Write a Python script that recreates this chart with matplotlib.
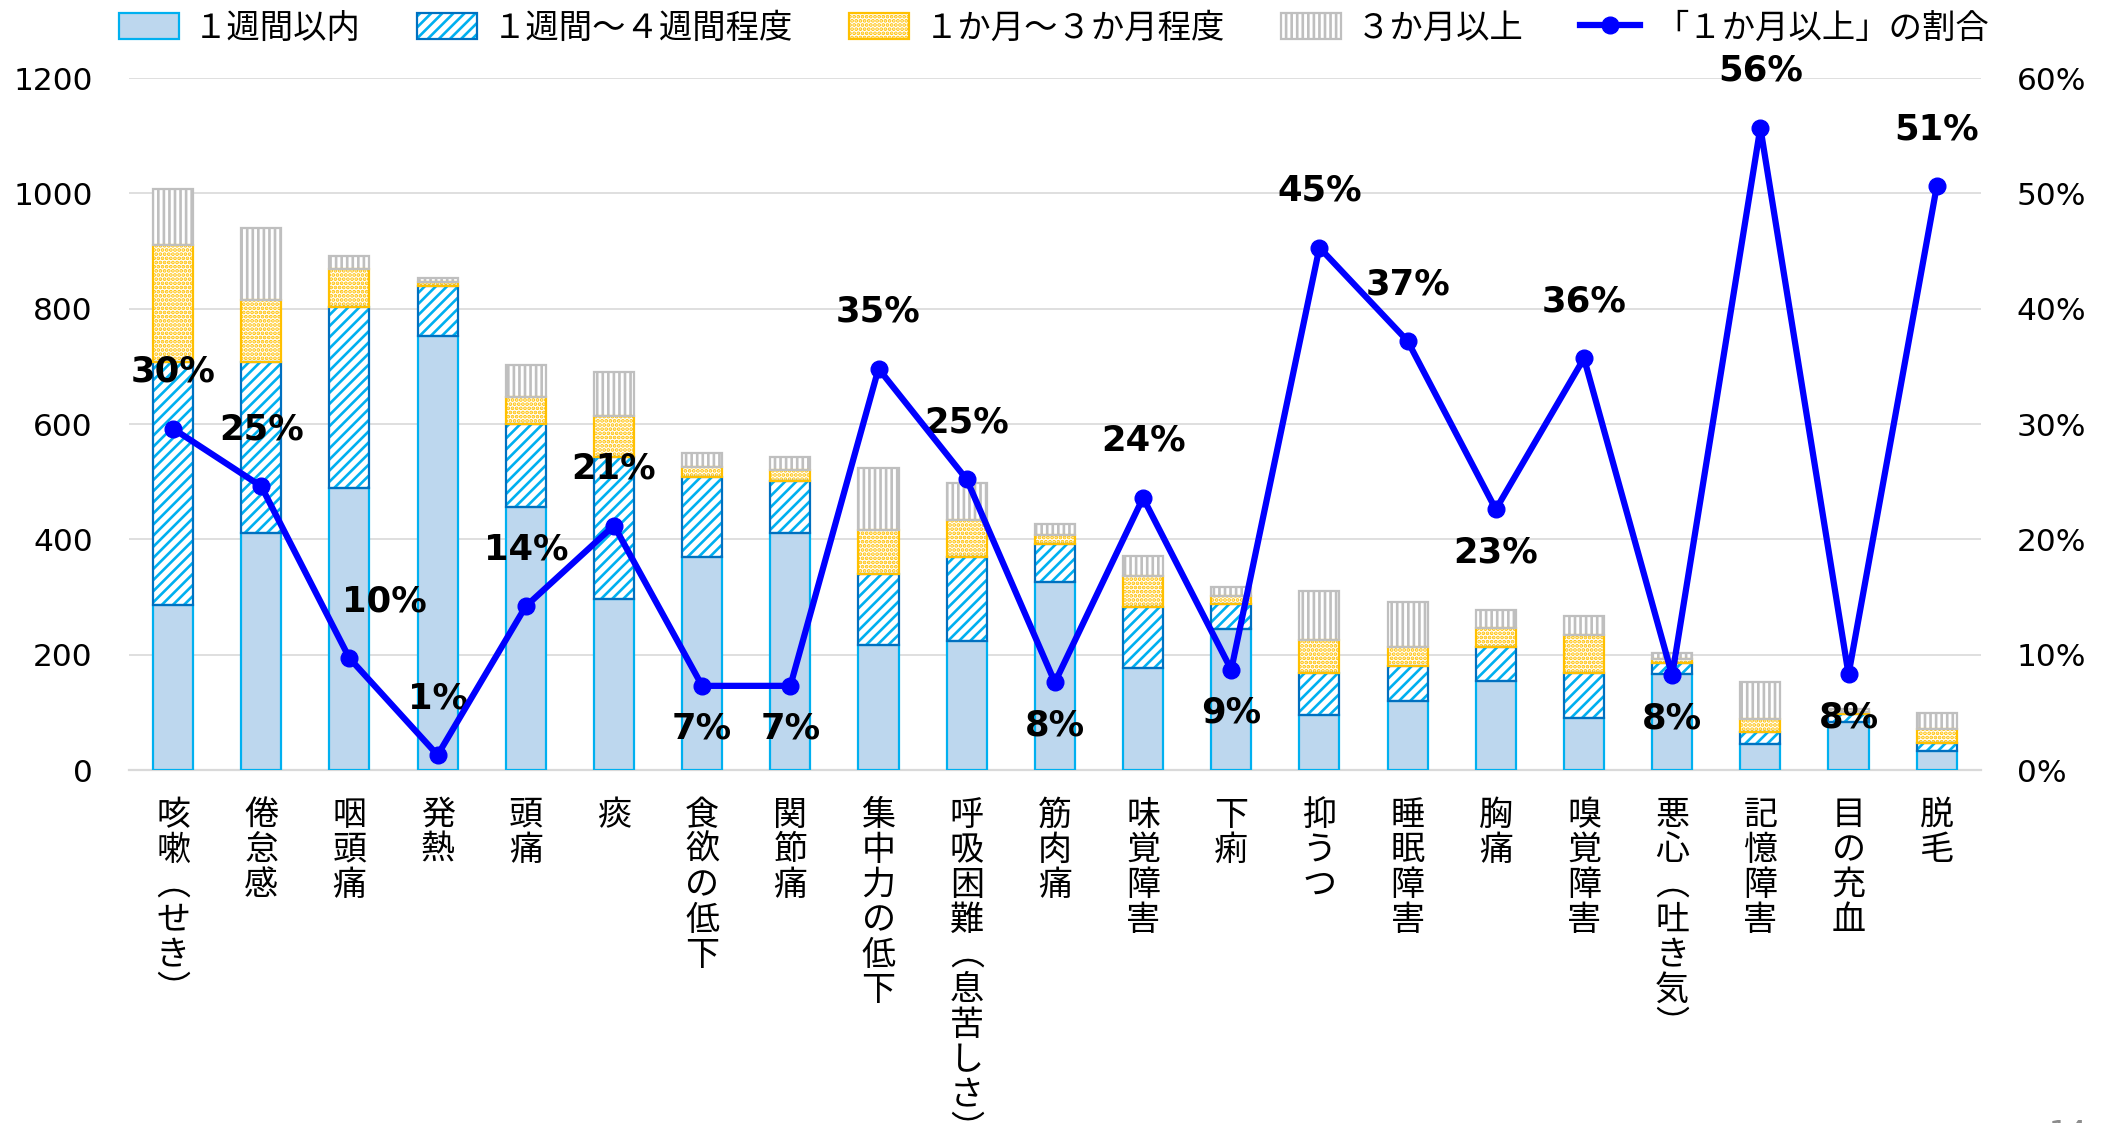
import matplotlib
matplotlib.use("Agg")
import matplotlib.pyplot as plt
import numpy as np

plt.rcParams['font.family'] = ['Noto Sans CJK JP', 'DejaVu Sans']
plt.rcParams['hatch.linewidth'] = 1.9

# symptom names (horizontal form; converted to vertical below)
symptoms = ['咳嗽（せき）', '倦怠感', '咽頭痛', '発熱', '頭痛', '痰', '食欲の低下', '関節痛',
            '集中力の低下', '呼吸困難（息苦しさ）', '筋肉痛', '味覚障害', '下痢', '抑うつ',
            '睡眠障害', '胸痛', '嗅覚障害', '悪心（吐き気）', '記憶障害', '目の充血', '脱毛']

# counts by duration
within_1w = [286, 411, 489, 752, 456, 296, 369, 411, 216, 224, 326, 177, 244, 95, 120, 155, 91, 166, 46, 84, 33]
w1_to_4w = [422, 297, 314, 88, 144, 246, 139, 90, 124, 146, 66, 105, 44, 73, 61, 59, 78, 19, 20, 13, 14]
m1_to_3m = [202, 107, 65, 6, 47, 72, 17, 20, 77, 63, 15, 55, 14, 57, 32, 32, 65, 7, 22, 4, 24]
over_3m = [98, 125, 23, 7, 55, 76, 25, 22, 106, 64, 19, 34, 16, 85, 78, 32, 33, 11, 65, 5, 28]

# share of "1 month or more" (%)
over_1m_pct = [29.6, 24.6, 9.7, 1.3, 14.2, 21.2, 7.3, 7.3, 34.8, 25.2, 7.6, 23.6, 8.7, 45.3,
               37.2, 22.6, 35.7, 8.2, 55.7, 8.3, 50.6]

legend_labels = ['１週間以内', '１週間～４週間程度', '１か月～３か月程度', '３か月以上', '「１か月以上」の割合']
left_ticks = [0, 200, 400, 600, 800, 1000, 1200]
right_ticks = [0, 10, 20, 30, 40, 50, 60]

# which percentage labels sit under the point
below = {6, 7, 10, 12, 15, 17, 19}

fig = plt.figure(figsize=(21.14, 11.23), dpi=100)
ax = fig.add_axes([0.061, 0.3143, 0.876, 0.6162])
x = np.arange(len(symptoms))
bw = 0.455

segments = [
    (within_1w, '#BDD7EE', None, '#00B0F0', '#00B0F0'),
    (w1_to_4w, 'white', '///', '#00B0F0', '#0070C0'),
    (m1_to_3m, 'white', '....', '#FFC000', '#FFC000'),
    (over_3m, 'white', '|||', '#BFBFBF', '#BFBFBF'),
]
bottom = np.zeros(len(x))
handles = []
for vals, face, hatch, hcol, ecol in segments:
    vals = np.array(vals)
    b1 = ax.bar(x, vals, bw, bottom=bottom, color=face, edgecolor=hcol, hatch=hatch,
                linewidth=0, zorder=2)
    b2 = ax.bar(x, vals, bw, bottom=bottom, color='none', edgecolor=ecol, linewidth=1.6, zorder=3)
    handles.append((b1[0], b2[0]))
    bottom += vals

ax.set_xlim(-0.5, len(x) - 0.5)
ax.set_ylim(0, 1200)
ax.set_yticks(left_ticks)
ax.set_yticklabels([str(t) for t in left_ticks], fontsize=22.5, family='DejaVu Sans')
ax.yaxis.grid(True, color='#D9D9D9', linewidth=1.2, zorder=0)
ax.set_axisbelow(True)
for s in ['top', 'left', 'right']:
    ax.spines[s].set_visible(False)
ax.spines['bottom'].set_color('#D9D9D9')
ax.spines['bottom'].set_linewidth(1.6)
ax.tick_params(axis='y', length=0, pad=26)

vert = ['\n'.join(s.replace('（', '︵').replace('）', '︶')) for s in symptoms]
ax.set_xticks(x)
ax.set_xticklabels(vert, fontsize=24.5, linespacing=1.0, va='top')
ax.tick_params(axis='x', length=0, pad=20)

ax2 = ax.twinx()
ax2.set_ylim(0, 60)
ax2.set_yticks(right_ticks)
ax2.set_yticklabels([f'{t}%' for t in right_ticks], fontsize=22.5, family='DejaVu Sans')
ax2.tick_params(axis='y', length=0, pad=26)
for s in ax2.spines.values():
    s.set_visible(False)
line, = ax2.plot(x, over_1m_pct, color='#0000FF', linewidth=4.5, marker='o', markersize=12, zorder=5)

for i, v in enumerate(over_1m_pct):
    dx = 0
    dy = -31 if i in below else 41
    if i == 2:
        dx = 25
    ax2.annotate(f'{v:.0f}%', (x[i], v), xytext=(dx, dy), textcoords='offset points',
                 ha='center', va='center', fontsize=25.5, fontweight='bold', family='DejaVu Sans')

fig.legend(handles + [line], legend_labels, loc='center', bbox_to_anchor=(0.4985, 0.975),
           ncol=5, frameon=False, fontsize=24, handlelength=1.8, handleheight=0.85,
           handletextpad=0.45, columnspacing=1.7, borderaxespad=0)

fig.text(0.969, 1 - 1119 / 1123, '14', color='#8C8C8C', fontsize=22, va='top', family='DejaVu Sans')

fig.savefig('out.png', dpi=100)
